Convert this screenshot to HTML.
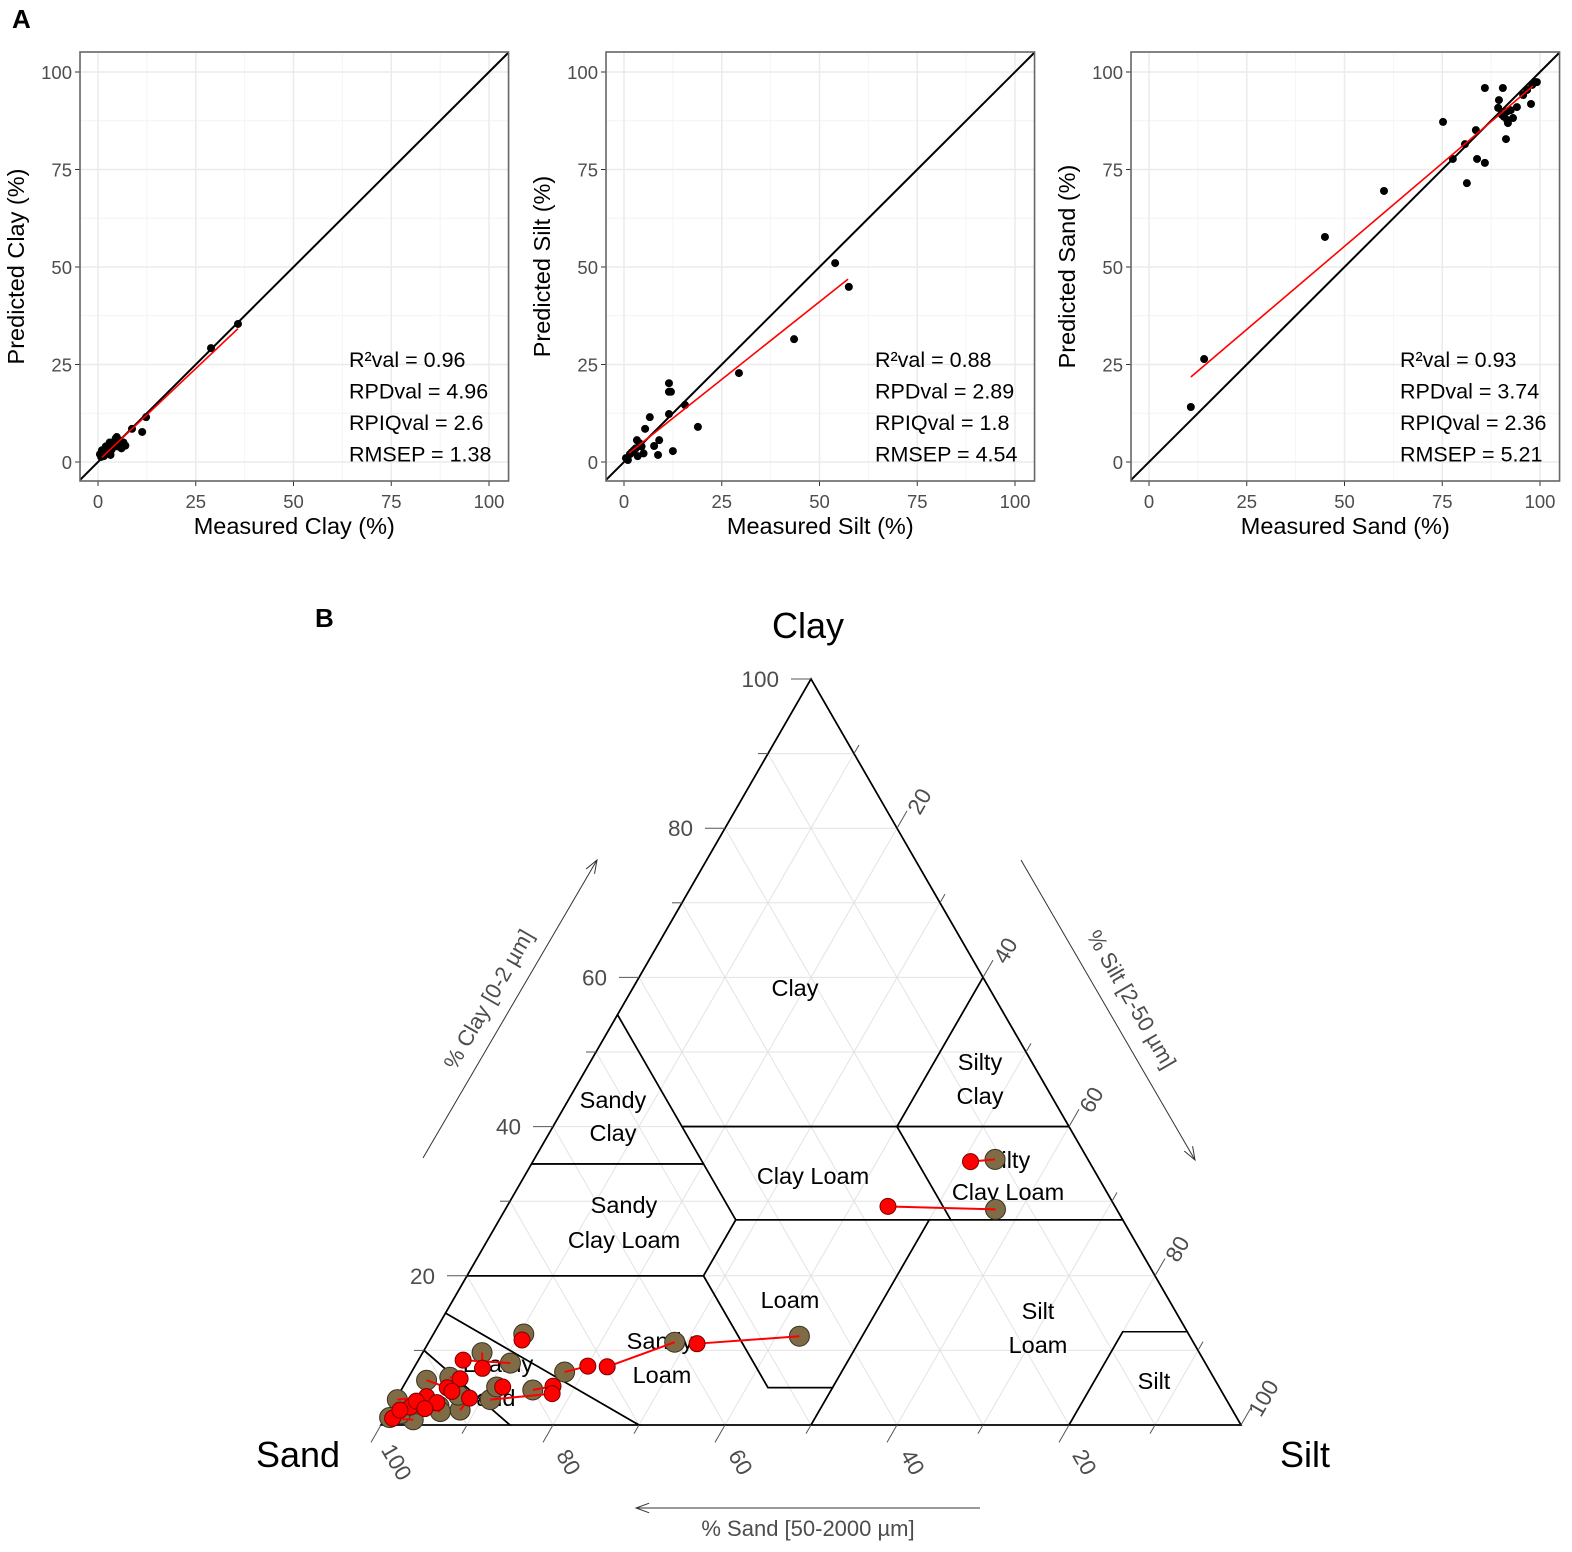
<!DOCTYPE html>
<html><head><meta charset="utf-8"><style>
html,body{margin:0;padding:0;background:#fff}
svg{display:block;font-family:"Liberation Sans",Arial,sans-serif}
</style></head><body>
<svg id="fig" width="1572" height="1552" viewBox="0 0 1572 1552" xmlns="http://www.w3.org/2000/svg">
<text x="12" y="28" font-size="26" font-weight="bold">A</text>
<text x="315" y="627" font-size="26" font-weight="bold">B</text>
</svg>
<script>
// ---------- Panel A data ----------
const clayMeasured = [35.8,28.9,12.3,8.7,11.3,0.5,1.0,1.5,2.0,2.5,3.0,3.5,4.0,4.5,5.0,5.5,6.0,6.5,7.0,2.2,3.2,1.2,4.8,0.8];
const clayPredicted = [35.4,29.2,11.5,8.5,7.7,2.0,3.0,1.5,4.0,2.5,5.0,3.2,4.5,6.0,4.0,5.5,3.5,5.0,4.2,3.8,1.8,2.8,6.4,1.3];
const siltMeasured = [54,57.5,43.5,29.4,11.5,11.5,12,6.6,11.5,15.6,18.9,12.5,8.7,9,7.7,5.4,3.3,0.5,1.5,2.5,3.5,4.5,2.0,1.0,3.0,5.0,4.0];
const siltPredicted = [51,44.9,31.5,22.8,20.2,18,18,11.5,12.3,14.6,9,2.8,1.8,5.6,4.1,8.5,5.6,1.0,2.0,3.0,1.5,4.0,2.5,0.5,3.5,2.2,4.8];
const sandMeasured = [10.7,14.1,45,60.1,75.2,85.9,90.5,83.6,80.8,77.7,83.9,85.9,81.3,91.3,89.5,89.3,90.3,91.6,94.1,95.7,98,98.7,99.2,97.7,96.7,91.6,91.8,93.1,90.8,92.5];
const sandPredicted = [14.1,26.4,57.7,69.5,87.2,95.9,95.9,85.1,81.5,77.7,77.7,76.7,71.5,82.8,92.8,90.8,89,87.7,91,94.1,96.7,97.4,97.4,91.8,95.4,89.9,86.9,88.2,88.5,90.2];
const fitClay = [[1,1.2],[35.8,34.2]];
const fitSilt = [[1.3,2.3],[57.3,46.9]];
const fitSand = [[10.7,21.8],[98.2,96.4]];
const statsClay = ["R²val = 0.96","RPDval = 4.96","RPIQval = 2.6","RMSEP = 1.38"];
const statsSilt = ["R²val = 0.88","RPDval = 2.89","RPIQval = 1.8","RMSEP = 4.54"];
const statsSand = ["R²val = 0.93","RPDval = 3.74","RPIQval = 2.36","RMSEP = 5.21"];
const tickValues = [0,25,50,75,100];
const tickLabels = ["0","25","50","75","100"];

// ---------- Panel B data ----------
const measClay = [35.6,28.9,11.9,11.1,7.1,12.2,8.3,9.7,6.0,6.4,4.7,3.4,5.1,2.0,3.4,0.7,1.5,2.5,1.0,4.0,2.8,1.8];
const measSilt = [53.6,57.0,42.7,28.6,17.8,10.5,10.9,6.9,2.3,4.8,15.3,11.0,10.9,8.2,0.2,3.4,1.5,5.5,0.5,7.0,3.0,6.0];
const predClay = [35.3,29.3,10.9,7.8,7.9,11.4,8.7,7.6,5.0,6.2,5.2,4.2,5.1,3.6,3.8,0.9,2.4,3.0,2.0,4.5,3.2,2.2];
const predSilt = [50.9,44.3,31.3,22.4,20.1,10.7,5.2,8.0,5.2,6.1,17.4,17.8,11.6,8.5,3.4,0.9,2.2,5.0,1.2,6.0,2.5,4.0];
const ternTicks = [20,40,60,80,100];

const NS = "http://www.w3.org/2000/svg";
const svg = document.getElementById('fig');
function el(tag, attrs, parent){
  const e = document.createElementNS(NS, tag);
  for (const k in attrs) e.setAttribute(k, attrs[k]);
  (parent||svg).appendChild(e);
  return e;
}

// ---------- Panel A ----------
const panels = [
  {key:'clay', x0:98, mx:clayMeasured, py:clayPredicted, fit:fitClay, stats:statsClay, xt:'Measured Clay (%)', yt:'Predicted Clay (%)', sx:349},
  {key:'silt', x0:624, mx:siltMeasured, py:siltPredicted, fit:fitSilt, stats:statsSilt, xt:'Measured Silt (%)', yt:'Predicted Silt (%)', sx:875},
  {key:'sand', x0:1149, mx:sandMeasured, py:sandPredicted, fit:fitSand, stats:statsSand, xt:'Measured Sand (%)', yt:'Predicted Sand (%)', sx:1400}
];
panels.forEach(p=>{
  const X = v => p.x0 + v*3.91;
  const Y = v => 462 - v*3.9;
  const L = X(-4.6), R = X(105), T = 52, B = 481;
  const g = el('g', {});
  
  
  [12.5,37.5,62.5,87.5].forEach(v=>{
    const a = el('line',{x1:X(v),x2:X(v),y1:T,y2:B,stroke:'#f4f4f4','stroke-width':1},g);
    
    
    const b = el('line',{x1:L,x2:R,y1:Y(v),y2:Y(v),stroke:'#f4f4f4','stroke-width':1},g);
    
    
  });
  tickValues.forEach((v,i)=>{
    const a = el('line',{x1:X(v),x2:X(v),y1:T,y2:B,stroke:'#ebebeb','stroke-width':1.5},g);
    
    
    const b = el('line',{x1:L,x2:R,y1:Y(v),y2:Y(v),stroke:'#ebebeb','stroke-width':1.5},g);
    
    
    const tx = el('line',{x1:X(v),x2:X(v),y1:B,y2:B+5,stroke:'#333'},g);
    
    
    const ty = el('line',{x1:L-5,x2:L,y1:Y(v),y2:Y(v),stroke:'#333'},g);
    
    
    const lx = el('text',{x:X(v),y:508,'font-size':18.5,fill:'#4d4d4d','text-anchor':'middle'},g);
    lx.textContent = tickLabels[i];
    
    
    const ly = el('text',{x:L-8,y:Y(v)+7,'font-size':18.5,fill:'#4d4d4d','text-anchor':'end'},g);
    ly.textContent = tickLabels[i];
    
    
  });
  const d = el('line',{x1:L,y1:Y(-4.6),x2:R,y2:Y(105),stroke:'#000','stroke-width':2},g);
  
  
  p.mx.forEach((m,i)=>{
    const c = el('circle',{cx:X(m),cy:Y(p.py[i]),r:4,fill:'#000'},g);
    
    
  });
  const f = el('line',{x1:X(p.fit[0][0]),y1:Y(p.fit[0][1]),x2:X(p.fit[1][0]),y2:Y(p.fit[1][1]),stroke:'#ff0000','stroke-width':1.6},g);
  
  
  const bd = el('rect',{x:L,y:T,width:R-L,height:B-T,fill:'none',stroke:'#666','stroke-width':1.6},g);
  
  
  p.stats.forEach((s,i)=>{
    const t = el('text',{x:p.sx,y:367+i*31.5,'font-size':21.5,fill:'#000'},g);
    t.textContent = s;
    
    
  });
  const xt = el('text',{x:(L+R)/2,y:534,'font-size':23.5,fill:'#000','text-anchor':'middle'},g);
  xt.textContent = p.xt;
  
  
  const yx = L-56, yy=(T+B)/2;
  const yt = el('text',{x:yx,y:yy,'font-size':23.5,fill:'#000','text-anchor':'middle',transform:`rotate(-90 ${yx} ${yy})`},g);
  yt.textContent = p.yt;
  
  
});

// ---------- Panel B ternary ----------
const SX=381, SY=1425, W=860, H=746;
function TX(clay,silt){ return SX + (silt + clay/2)/100*W; }
function TY(clay){ return SY - clay/100*H; }
function P(sand,silt,clay){ return TX(clay,silt)+','+TY(clay); }
const tg = el('g',{});


for(let v=10; v<100; v+=10){
  const a = el('line',{x1:TX(v,0),y1:TY(v),x2:TX(v,100-v),y2:TY(v),stroke:'#e3e3e3','stroke-width':1},tg);
  
  
  const b = el('line',{x1:TX(0,v),y1:TY(0),x2:TX(100-v,v),y2:TY(100-v),stroke:'#e3e3e3','stroke-width':1},tg);
  
  
  const c = el('line',{x1:TX(0,100-v),y1:TY(0),x2:TX(100-v,0),y2:TY(100-v),stroke:'#e3e3e3','stroke-width':1},tg);
  
  
}
const classes = {
  'clay':[[0,0,100],[45,0,55],[45,15,40],[20,40,40],[0,40,60]],
  'sandy-clay':[[45,0,55],[65,0,35],[45,20,35],[45,15,40]],
  'silty-clay':[[0,40,60],[20,40,40],[0,60,40]],
  'sandy-clay-loam':[[65,0,35],[80,0,20],[52.5,27.5,20],[45,27.5,27.5],[45,20,35]],
  'clay-loam':[[45,20,35],[45,27.5,27.5],[20,52.5,27.5],[20,40,40],[45,15,40]],
  'silty-clay-loam':[[20,40,40],[20,52.5,27.5],[0,72.5,27.5],[0,60,40]],
  'loam':[[52.5,27.5,20],[52.5,42.5,5],[45,50,5],[22.5,50,27.5],[45,27.5,27.5]],
  'silt-loam':[[50,50,0],[20,80,0],[7.5,80,12.5],[0,87.5,12.5],[0,72.5,27.5],[22.5,50,27.5]],
  'silt':[[20,80,0],[0,100,0],[0,87.5,12.5],[7.5,80,12.5]],
  'sandy-loam':[[85,0,15],[80,0,20],[52.5,27.5,20],[52.5,42.5,5],[45,50,5],[50,50,0],[70,30,0]],
  'loamy-sand':[[85,0,15],[90,0,10],[85,15,0],[70,30,0]],
  'sand':[[100,0,0],[90,0,10],[85,15,0]]
};
for(const k in classes){
  const pg = el('polygon',{points:classes[k].map(q=>P(q[0],q[1],q[2])).join(' '),fill:'none',stroke:'#000','stroke-width':1.6,'stroke-linejoin':'miter'},tg);
  
  
}
const outer = el('polygon',{points:P(100,0,0)+' '+P(0,100,0)+' '+P(0,0,100),fill:'none',stroke:'#000','stroke-width':1.6},tg);


const classLabels = [
  ['Clay',795,996],['Silty',980,1070],['Clay',980,1104],['Sandy',613,1108],['Clay',613,1141],
  ['Clay Loam',813,1184],['Silty',1008,1168],['Clay Loam',1008,1200],['Sandy',624,1213],['Clay Loam',624,1248],
  ['Loam',790,1308],['Sandy',660,1349],['Loam',662,1383],['Silt',1038,1319],['Loam',1038,1353],['Silt',1154,1389],
  ['Loamy',498,1372],['Sand',488,1406]
];
classLabels.forEach(c=>{
  const t = el('text',{x:c[1],y:c[2],'font-size':23.5,fill:'#000','text-anchor':'middle'},tg);
  t.textContent = c[0];
  
  
});
for(let v=10; v<=100; v+=10){
  const major = v%20===0;
  const len = major?20:10;
  const cx = TX(v,0), cy=TY(v);
  const a = el('line',{x1:cx-len,y1:cy,x2:cx,y2:cy,stroke:'#555','stroke-width':1},tg);
  
  
  const sx = TX(100-v,v), sy=TY(100-v);
  const b = el('line',{x1:sx,y1:sy,x2:sx+len*0.5,y2:sy-len*0.866,stroke:'#555','stroke-width':1},tg);
  
  
  const bx = TX(0,100-v), by=TY(0);
  const c = el('line',{x1:bx,y1:by,x2:bx-len*0.5,y2:by+len*0.866,stroke:'#555','stroke-width':1},tg);
  
  
}
ternTicks.forEach(v=>{
  const l1 = el('text',{x:TX(v,0)-32,y:TY(v)+8,'font-size':22.5,fill:'#4d4d4d','text-anchor':'end'},tg);
  l1.textContent = v;
  
  
  const x2 = TX(100-v,v)+24, y2 = TY(100-v)-26;
  const l2 = el('text',{x:x2,y:y2,'font-size':22.5,fill:'#4d4d4d','text-anchor':'middle','dominant-baseline':'middle',transform:`rotate(-60 ${x2} ${y2})`},tg);
  l2.textContent = v;
  
  
  const x3 = TX(0,100-v)+14, y3 = TY(0)+38;
  const l3 = el('text',{x:x3,y:y3,'font-size':22.5,fill:'#4d4d4d','text-anchor':'middle','dominant-baseline':'middle',transform:`rotate(60 ${x3} ${y3})`},tg);
  l3.textContent = v;
  
  
});
[['Clay',808,638,'clay-corner-label'],['Sand',298,1467,'sand-corner-label'],['Silt',1305,1467,'silt-corner-label']].forEach(c=>{
  const t = el('text',{x:c[1],y:c[2],'font-size':36,fill:'#000','text-anchor':'middle'},tg);
  t.textContent = c[0];
  
  
});
function arrow(x1,y1,x2,y2,name){
  const a = el('line',{x1:x1,y1:y1,x2:x2,y2:y2,stroke:'#333','stroke-width':1},tg);
  
  
  const ang = Math.atan2(y2-y1,x2-x1), L=14, s=0.35;
  const h = el('polyline',{points:`${x2-L*Math.cos(ang-s)},${y2-L*Math.sin(ang-s)} ${x2},${y2} ${x2-L*Math.cos(ang+s)},${y2-L*Math.sin(ang+s)}`,fill:'none',stroke:'#333','stroke-width':1},tg);
  
  
}
arrow(423,1158,597,860,'clay-axis-arrow');
arrow(1021,860,1195,1160,'silt-axis-arrow');
arrow(980,1508,636,1508,'sand-axis-arrow');
const at1 = el('text',{x:495,y:1003,'font-size':22,fill:'#4d4d4d','text-anchor':'middle',transform:'rotate(-60 495 1003)'},tg);
at1.textContent = '% Clay [0-2 µm]';


const at2 = el('text',{x:1125,y:1003,'font-size':22,fill:'#4d4d4d','text-anchor':'middle',transform:'rotate(60 1125 1003)'},tg);
at2.textContent = '% Silt [2-50 µm]';


const at3 = el('text',{x:808,y:1536,'font-size':22,fill:'#4d4d4d','text-anchor':'middle'},tg);
at3.textContent = '% Sand [50-2000 µm]';


measClay.forEach((c,i)=>{
  const m = el('circle',{cx:TX(c,measSilt[i]),cy:TY(c),r:10,fill:'#7f6b45',stroke:'#3a3222','stroke-width':1},tg);
  
  
});
measClay.forEach((c,i)=>{
  const l = el('line',{x1:TX(c,measSilt[i]),y1:TY(c),x2:TX(predClay[i],predSilt[i]),y2:TY(predClay[i]),stroke:'#ff0000','stroke-width':2},tg);
  
  
});
predClay.forEach((c,i)=>{
  const p = el('circle',{cx:TX(c,predSilt[i]),cy:TY(c),r:8,fill:'#ff0000',stroke:'#7a0000','stroke-width':1},tg);
  
  
});
</script>
</body></html>
